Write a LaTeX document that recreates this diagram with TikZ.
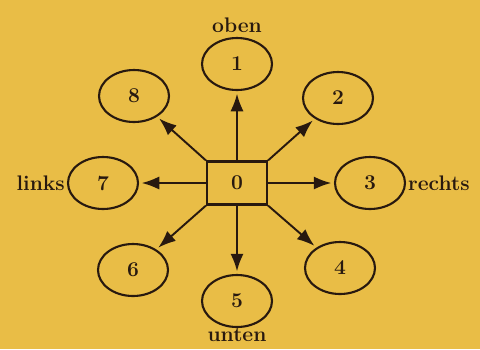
\documentclass[tikz,border=0pt]{standalone}
\usepackage{tikz}
\usetikzlibrary{positioning,arrows.meta,shapes.geometric}
\definecolor{paperGold}{RGB}{233,189,70}
\definecolor{inkDark}{RGB}{40,25,15}

\begin{document}
\begin{tikzpicture}[x=0.02cm,y=-0.02cm,
    dir/.style={draw=inkDark, line width=1.2pt, ellipse, minimum width=1.4cm, minimum height=1.04cm, inner sep=0pt, font=\large\bfseries, text=inkDark},
    centre/.style={draw=inkDark, line width=1.2pt, minimum width=1.2cm, minimum height=0.86cm, font=\large\bfseries, text=inkDark},
    lbl/.style={font=\large\bfseries, text=inkDark, inner sep=1pt},
    arrow/.style={-{Latex[length=10pt,width=7.5pt]}, line width=1.1pt, inkDark, shorten >=1.5pt}
  ]
  \fill[paperGold] (0,0) rectangle (480,349);
  \useasboundingbox (0,0) rectangle (480,349);
  % centre and the eight directions
  \node[centre] (c) at (237,183) {0};
  \node[dir] (n1) at (237,64) {1};
  \node[dir] (n2) at (338,98) {2};
  \node[dir] (n3) at (370,183) {3};
  \node[dir] (n4) at (340,268) {4};
  \node[dir] (n5) at (237,301) {5};
  \node[dir] (n6) at (133,270) {6};
  \node[dir] (n7) at (103,183) {7};
  \node[dir] (n8) at (134,96) {8};
  % labels
  \node[lbl,above=1pt of n1] (oben) {oben};
  \node[lbl,below=-1pt of n5] (unten) {unten};
  \node[lbl,left=0pt of n7] (links) {links};
  \node[lbl,right=0pt of n3] (rechts) {rechts};
  % arrows
  \draw[arrow] (c) -- (n1);
  \draw[arrow] (c.north east) -- (n2);
  \draw[arrow] (c) -- (n3);
  \draw[arrow] (c.south east) -- (n4);
  \draw[arrow] (c) -- (n5);
  \draw[arrow] (c.south west) -- (n6);
  \draw[arrow] (c) -- (n7);
  \draw[arrow] (c.north west) -- (n8);
\end{tikzpicture}
\end{document}
